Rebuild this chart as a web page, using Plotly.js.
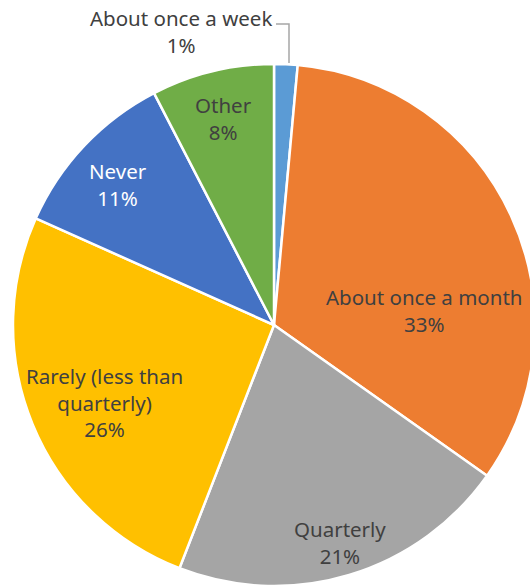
<!DOCTYPE html>
<html>
<head>
<meta charset="utf-8">
<script src="https://cdn.plot.ly/plotly-3.0.1.min.js"></script>
<style>
html,body{margin:0;padding:0;overflow:hidden;background:#fff;}
#chart{width:540px;height:588px;}
</style>
</head>
<body>
<div id="chart"></div>
<script>
const categories = ["About once a week", "About once a month", "Quarterly", "Rarely (less than<br>quarterly)", "Never", "Other"];
const values = [1.45, 33.35, 21.1, 25.8, 10.7, 7.6];
const colors = ["#5B9BD5", "#ED7D31", "#A5A5A5", "#FFC000", "#4472C4", "#70AD47"];
const textColors = ["#404040", "#404040", "#404040", "#404040", "#FFFFFF", "#404040"];
// label block centres in pixels (layout only)
const labelPosX = [181, 424, 340, 104, 118, 223];
const labelPosY = [32, 310, 542, 403, 184, 118];

const trace = {
  type: "pie",
  labels: categories,
  values: values,
  sort: false,
  direction: "clockwise",
  rotation: 0,
  marker: {colors: colors, line: {color: "#FFFFFF", width: 2.5}},
  textinfo: "none",
  hoverinfo: "label+percent",
  showlegend: false
};

const l = 13, w = 522, t = 64, b = 2;
const px = x => (x - l) / w;
const py = y => (588 - b - y) / w;
const total = values.reduce((a, c) => a + c, 0);
const FONT = "Noto Sans, Open Sans, sans-serif";

const annotations = categories.map((c, i) => ({
  xref: "paper", yref: "paper",
  x: px(labelPosX[i]), y: py(labelPosY[i]),
  xanchor: "center", yanchor: "middle",
  text: c + "<br>" + Math.round(values[i] / total * 100) + "%",
  showarrow: false,
  font: {family: FONT, size: 20.5, color: textColors[i]}
}));

const layout = {
  width: 540, height: 588,
  margin: {l: l, r: 540 - l - w, t: t, b: b},
  paper_bgcolor: "#FFFFFF",
  showlegend: false,
  annotations: annotations,
  shapes: [{
    type: "path", xref: "paper", yref: "paper",
    path: "M " + px(276) + " " + py(24) + " L " + px(289) + " " + py(24) + " L " + px(289) + " " + py(63),
    line: {color: "#A6A6A6", width: 1.5}
  }]
};

Plotly.newPlot("chart", [trace], layout, {displayModeBar: false, staticPlot: true});
</script>
</body>
</html>
